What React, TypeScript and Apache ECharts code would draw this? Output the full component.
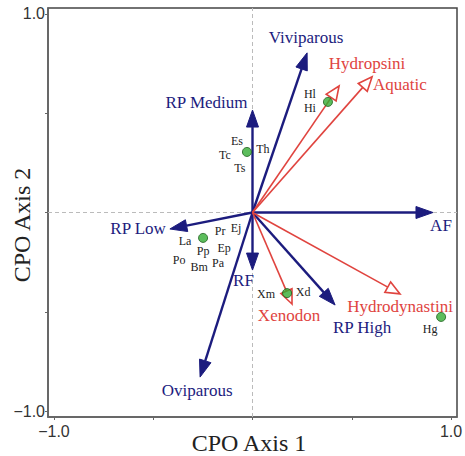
import React, { useEffect, useRef } from "react";
import * as echarts from "echarts";

// Vectors (biplot arrows)
const vectorNames = ["Viviparous", "RP Medium", "RP Low", "RF", "Oviparous", "RP High", "AF", "Hydropsini", "Aquatic", "Xenodon", "Hydrodynastini"];
const vectorX = [0.275, 0.0, -0.416, 0.0, -0.264, 0.416, 0.909, 0.436, 0.602, 0.199, 0.743];
const vectorY = [0.804, 0.516, -0.083, -0.29, -0.829, -0.466, 0.0, 0.637, 0.683, -0.461, -0.41];
const vectorKind = ["trait", "trait", "trait", "trait", "trait", "trait", "trait", "clade", "clade", "clade", "clade"];

// Species points (each point carries several species labels)
const pointX = [0.38, -0.028, -0.249, 0.174, 0.95];
const pointY = [0.557, 0.305, -0.128, -0.406, -0.526];
const pointLabels = [
  ["Hl", "Hi"],
  ["Es", "Tc", "Th", "Ts"],
  ["Pr", "Ej", "La", "Pp", "Ep", "Po", "Bm", "Pa"],
  ["Xm", "Xd"],
  ["Hg"],
];

const axisMin = -1.03;
const axisMax = 1.03;
const xTicks = [-1, -0.5, 0, 0.5, 1];
const yTicks = [-1, -0.5, 0, 0.5, 1];
const tickLabels = [-1, 1];
const xAxisTitle = "CPO Axis 1";
const yAxisTitle = "CPO Axis 2";

// label placement (pixel offsets from tip / point)
const vectorLabelPos: Record<string, [number, number, string]> = {
  Viviparous: [-1, -15, "center"],
  "RP Medium": [-46, -8, "center"],
  "RP Low": [-4, 0, "right"],
  RF: [-9, 10, "center"],
  Oviparous: [-3, 13, "center"],
  "RP High": [27, 22, "center"],
  AF: [8, 13, "center"],
  Hydropsini: [28, -23, "center"],
  Aquatic: [1, 8, "left"],
  Xenodon: [-3, 11, "center"],
  Hydrodynastini: [0, 13, "center"],
};
const pointLabelPos: Record<string, [number, number]> = {
  Hl: [-18, -8], Hi: [-18, 6],
  Es: [-10, -11], Tc: [-22, 3], Th: [16, -3], Ts: [-7, 16],
  Pr: [17, -7], Ej: [33, -10], La: [-18, 3], Pp: [0, 13], Ep: [21, 10], Po: [-24, 22], Bm: [-4, 29], Pa: [15, 25],
  Xm: [-21, 1], Xd: [16, -1],
  Hg: [-11, 12],
};

const BLUE = "#1c1c7e";
const RED = "#e0443f";
const SERIF = "'Liberation Serif', 'Times New Roman', serif";
const fmt = (v: number) => (v < 0 ? "\u2212" + Math.abs(v).toFixed(1) : v.toFixed(1));

export default function App() {
  const ref = useRef<HTMLDivElement>(null);
  useEffect(() => {
    if (!ref.current) return;
    const chart = echarts.init(ref.current, undefined, { renderer: "svg" });
    const vecData = vectorNames.map((n, i) => [vectorX[i], vectorY[i], i]);
    const ptData = pointX.map((x, i) => [x, pointY[i], i]);

    const axisCommon = {
      type: "value" as const,
      min: axisMin,
      max: axisMax,
      splitLine: { show: false },
      axisLine: { onZero: false, lineStyle: { color: "#666", width: 1.5 } },
    };

    chart.setOption({
      animation: false,
      backgroundColor: "#fff",
      grid: {
        left: 48, right: 8, top: 8, bottom: 39,
        show: true, borderColor: "#444", borderWidth: 1.5,
        containLabel: false, outerBoundsMode: "none",
      },
      graphic: [
        {
          type: "text",
          x: 249,
          y: 443,
          silent: true,
          style: { text: xAxisTitle, fontFamily: SERIF, fontSize: 24, fill: "#222", align: "center", verticalAlign: "middle" },
        },
        {
          type: "text",
          x: 22,
          y: 225,
          rotation: Math.PI / 2,
          silent: true,
          style: { text: yAxisTitle, fontFamily: SERIF, fontSize: 24, fill: "#222", align: "center", verticalAlign: "middle" },
        },
      ],
      xAxis: {
        ...axisCommon,
        axisTick: { customValues: xTicks, length: 3, lineStyle: { color: "#666" } },
        axisLabel: { customValues: tickLabels, formatter: fmt, fontFamily: "Liberation Sans", fontSize: 16, color: "#333", margin: 6 },
      },
      yAxis: {
        ...axisCommon,
        axisTick: { customValues: yTicks, length: 3, lineStyle: { color: "#666" } },
        axisLabel: { customValues: tickLabels, formatter: fmt, fontFamily: "Liberation Sans", fontSize: 16, color: "#333", margin: 3 },
      },
      series: [
        {
          // dashed zero reference lines
          type: "custom",
          clip: false,
          silent: true,
          z: 1,
          data: [[0, 0]],
          renderItem: (params: any, api: any) => {
            const l = api.coord([axisMin, 0]);
            const r = api.coord([axisMax, 0]);
            const b = api.coord([0, axisMin]);
            const t = api.coord([0, axisMax]);
            const st = { stroke: "#bbb", lineWidth: 1, lineDash: [4, 3] };
            return {
              type: "group",
              children: [
                { type: "line", shape: { x1: l[0], y1: l[1], x2: r[0], y2: r[1] }, style: st },
                { type: "line", shape: { x1: b[0], y1: b[1], x2: t[0], y2: t[1] }, style: st },
              ],
            };
          },
        },
        {
          type: "custom",
          clip: false,
          silent: true,
          z: 4,
          data: vecData,
          renderItem: (params: any, api: any) => {
            const i = api.value(2);
            const name = vectorNames[i];
            const isClade = vectorKind[i] === "clade";
            const color = isClade ? RED : BLUE;
            const o = api.coord([0, 0]);
            const t = api.coord([api.value(0), api.value(1)]);
            const dx = t[0] - o[0];
            const dy = t[1] - o[1];
            const len = Math.sqrt(dx * dx + dy * dy);
            const ux = dx / len, uy = dy / len;
            const nx = -uy, ny = ux;
            const L = isClade ? 14 : 17;
            const W = 12;
            const bx = t[0] - ux * L, by = t[1] - uy * L;
            const head = [
              [t[0], t[1]],
              [bx + nx * W / 2, by + ny * W / 2],
              [bx - nx * W / 2, by - ny * W / 2],
            ];
            const lp = vectorLabelPos[name];
            return {
              type: "group",
              children: [
                {
                  type: "line",
                  shape: { x1: o[0], y1: o[1], x2: bx, y2: by },
                  style: { stroke: color, lineWidth: isClade ? 1.6 : 2.4 },
                },
                {
                  type: "polygon",
                  shape: { points: head },
                  style: isClade
                    ? { fill: "#fff", stroke: color, lineWidth: 1.6 }
                    : { fill: color, stroke: color, lineWidth: 1 },
                },
                {
                  type: "text",
                  x: t[0] + lp[0],
                  y: t[1] + lp[1],
                  style: {
                    text: name,
                    fill: color,
                    fontFamily: SERIF,
                    fontSize: 17,
                    align: lp[2],
                    verticalAlign: "middle",
                  },
                },
              ],
            };
          },
        },
        {
          type: "scatter",
          silent: true,
          data: ptData,
          symbolSize: 9,
          itemStyle: { color: "#33ad33", borderColor: "#1d5e1d", borderWidth: 1 },
          z: 5,
        },
        {
          type: "custom",
          clip: false,
          silent: true,
          data: ptData,
          z: 6,
          renderItem: (params: any, api: any) => {
            const i = api.value(2);
            const p = api.coord([api.value(0), api.value(1)]);
            return {
              type: "group",
              children: pointLabels[i].map((lab) => {
                const off = pointLabelPos[lab] || [0, 0];
                return {
                  type: "text",
                  x: p[0] + off[0],
                  y: p[1] + off[1],
                  style: {
                    text: lab,
                    fill: "#222",
                    fontFamily: SERIF,
                    fontSize: 12,
                    align: "center",
                    verticalAlign: "middle",
                  },
                };
              }),
            };
          },
        },
      ],
    });
    return () => chart.dispose();
  }, []);
  return <div ref={ref} style={{ width: 465, height: 456, position: "absolute", left: 0, top: 0 }} />;
}
